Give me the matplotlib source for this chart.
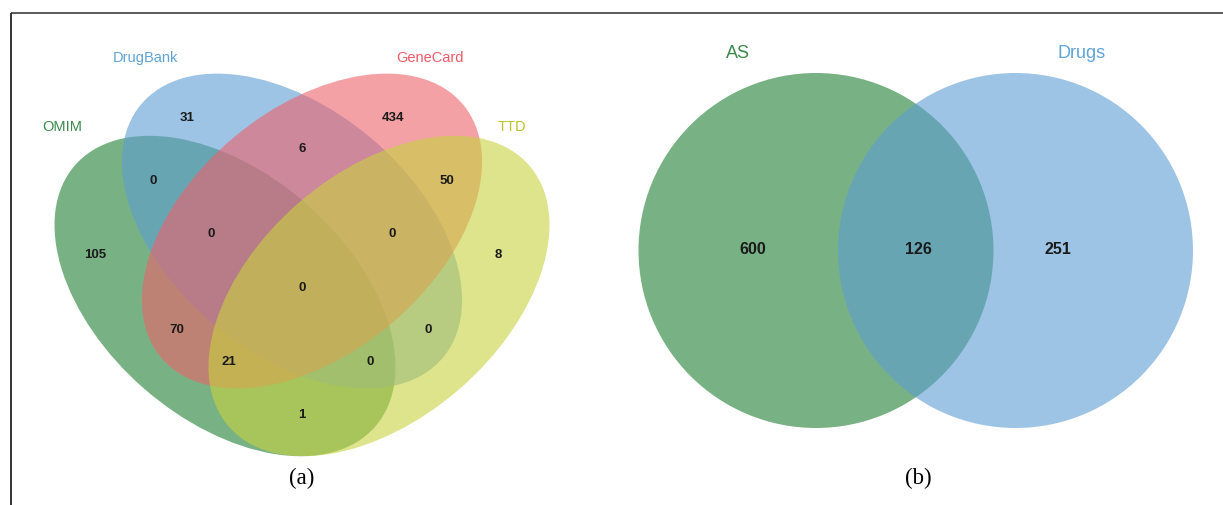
"""Two Venn diagrams: four target databases (a) and AS vs drug targets (b)."""

import matplotlib.pyplot as plt
from matplotlib.patches import Circle, Ellipse

# ---- data -------------------------------------------------------------
SETS_A = ["OMIM", "DrugBank", "GeneCard", "TTD"]
# region key: which sets (O, D, G, T) the region belongs to
REGIONS_A = ["D", "G", "DG", "OD", "GT", "ODG", "DGT", "O", "T",
             "ODGT", "OG", "DT", "OGT", "ODT", "OT"]
COUNTS_A = [31, 434, 6, 0, 50, 0, 0, 105, 8, 0, 70, 0, 21, 0, 1]

SETS_B = ["AS", "Drugs"]
REGIONS_B = ["A", "AD", "D"]
COUNTS_B = [600, 126, 251]

# ---- style / layout (pixel coordinates, y down) --------------------------
COLORS = {
    "OMIM": (30 / 255, 127 / 255, 50 / 255),
    "DrugBank": (93 / 255, 157 / 255, 212 / 255),
    "GeneCard": (237 / 255, 98 / 255, 107 / 255),
    "TTD": (200 / 255, 210 / 255, 63 / 255),
}
COLORS["AS"] = COLORS["OMIM"]
COLORS["Drugs"] = COLORS["DrugBank"]
LABEL_COLORS = {
    "OMIM": "#3a8a4a", "DrugBank": "#5fa3d8", "GeneCard": "#ef5a66",
    "TTD": "#b8c430", "AS": "#3a8a4a", "Drugs": "#5fa3d8",
}
ALPHA = 0.6

# center x, center y, semi-major, semi-minor, angle
ELLIPSES_A = {
    "OMIM": (225, 296, 199, 123, 41),
    "DrugBank": (292, 231, 197, 122, 40),
    "GeneCard": (312, 231, 197, 122, -40),
    "TTD": (379, 296, 199, 123, -41),
}
SET_LABEL_POS_A = {
    "OMIM": (62, 127), "DrugBank": (145, 58),
    "GeneCard": (430, 58), "TTD": (512, 127),
}
REGION_POS_A = {
    "D": (187, 118), "G": (393, 118), "DG": (302, 149),
    "OD": (153, 181), "GT": (447, 181), "ODG": (211, 234),
    "DGT": (392, 234), "O": (95, 255), "T": (498, 255),
    "ODGT": (302, 288), "OG": (177, 330), "DT": (428, 330),
    "OGT": (229, 362), "ODT": (370, 362), "OT": (302, 415),
}

CIRCLES_B = {"AS": (816, 250.5, 177.5), "Drugs": (1015.5, 250.5, 177.5)}
SET_LABEL_POS_B = {"AS": (738, 53), "Drugs": (1082, 53)}
REGION_POS_B = {"A": (753, 250), "AD": (918, 250), "D": (1058, 250)}

W, H = 1223, 505

fig = plt.figure(figsize=(W / 100, H / 100), dpi=100)
ax = fig.add_axes([0, 0, 1, 1])
ax.set_xlim(0, W)
ax.set_ylim(H, 0)
ax.axis("off")

# frame lines
ax.plot([10.5, W], [13, 13], color="#5a5a5a", lw=1.4, solid_capstyle="butt")
ax.plot([10.5, 10.5], [13, H], color="#333333", lw=1.4, solid_capstyle="butt")

label_font = dict(family="Liberation Sans", fontsize=10.5, ha="center", va="center")
count_font = dict(family="Liberation Sans", fontsize=9.5, ha="center",
                  va="center", weight="bold", color="#1a1a1a")

# (a) four-set venn
for name in SETS_A:
    cx, cy, a, b, ang = ELLIPSES_A[name]
    ax.add_patch(Ellipse((cx, cy), 2 * a, 2 * b, angle=ang,
                         facecolor=COLORS[name], edgecolor="none", alpha=ALPHA))
    ax.text(*SET_LABEL_POS_A[name], name, color=LABEL_COLORS[name], **label_font)
for key, n in zip(REGIONS_A, COUNTS_A):
    ax.text(*REGION_POS_A[key], str(n), **count_font)

# (b) two-set venn
for name in SETS_B:
    cx, cy, r = CIRCLES_B[name]
    ax.add_patch(Circle((cx, cy), r, facecolor=COLORS[name],
                        edgecolor="none", alpha=ALPHA))
    ax.text(*SET_LABEL_POS_B[name], name, color=LABEL_COLORS[name],
            **{**label_font, "fontsize": 13})
for key, n in zip(REGIONS_B, COUNTS_B):
    ax.text(*REGION_POS_B[key], str(n), **{**count_font, "fontsize": 11.5})

ax.text(302, 478, "(a)", family="Liberation Serif", fontsize=16.5,
        ha="center", va="center")
ax.text(918, 478, "(b)", family="Liberation Serif", fontsize=16.5,
        ha="center", va="center")

fig.savefig("out.png", dpi=100)
